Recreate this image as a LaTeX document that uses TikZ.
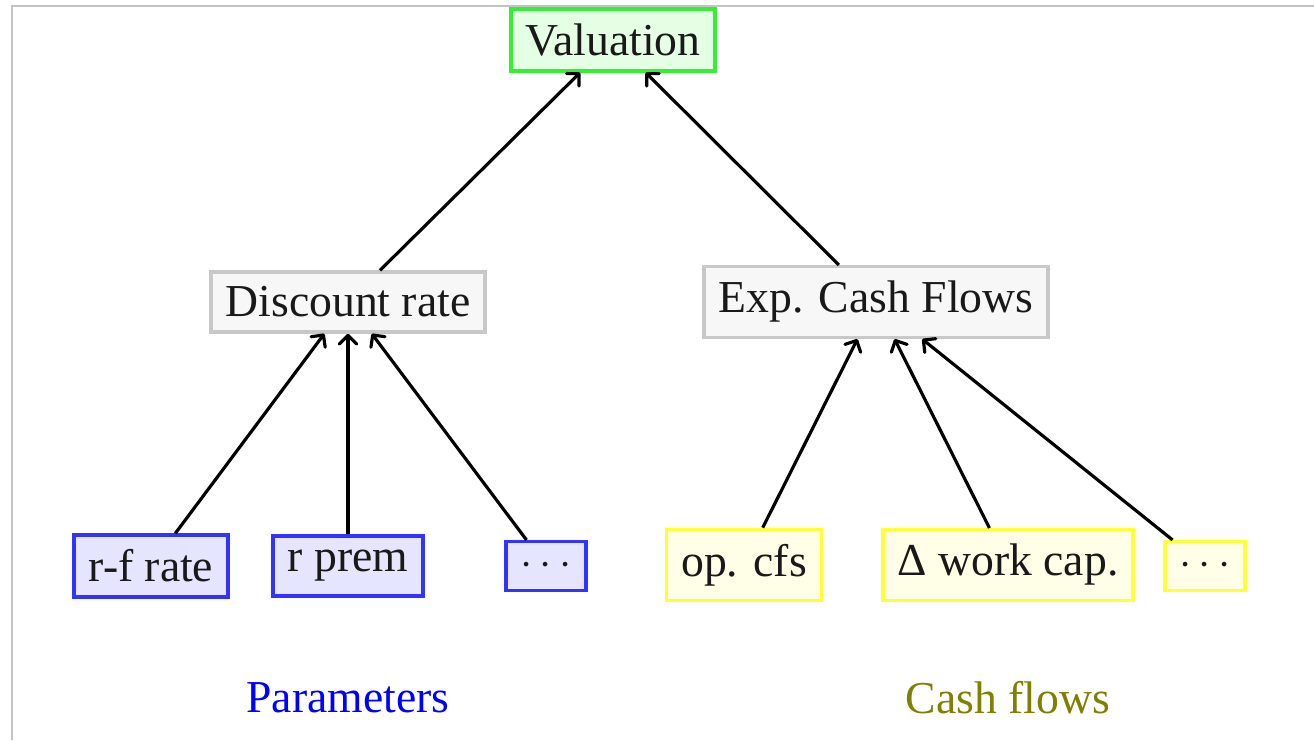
\documentclass[tikz,border=0pt]{standalone}
\usepackage{fontspec}
\setmainfont{Liberation Serif}
\usetikzlibrary{arrows.meta}
\begin{document}
\begin{tikzpicture}[x=0.02cm,y=-0.02cm,font=\fontsize{26}{31}\selectfont]
		%%% Colores
		\definecolor{framecolor}{RGB}{195,195,195}
		\definecolor{topcolor}{RGB}{51,240,51}
		\definecolor{midcolor}{RGB}{200,200,200}
		\definecolor{parcolor}{RGB}{51,51,255}
		\definecolor{cfcolor}{RGB}{255,255,51}
		\definecolor{olivecolor}{RGB}{128,128,0}
		\tikzset{
			box/.style={draw,line width=2pt,inner sep=8.3pt,text=black!90},
			topbox/.style={box,draw=topcolor,fill=green!10},
			midbox/.style={box,draw=midcolor,fill=black!3},
			parbox/.style={box,draw=parcolor,fill=blue!10},
			cfbox/.style={box,draw=cfcolor,fill=yellow!10},
			link/.style={-{Straight Barb[length=5pt,width=10pt,round]},line width=1.8pt},
		}
		\useasboundingbox (0,0) rectangle (1314,740);

		%%% Marco
		\draw[framecolor,line width=1pt] (12,740) -- (12,6) -- (1314,6);

		%%% Nodos
		\node[topbox] (val) at (613,40) {Valuation};
		\node[midbox] (disc) at (348,302) {Discount rate};
		\node[midbox] (ecf) at (876,302) {Exp. Cash Flows};

		\node[parbox] (rf) at (151,566) {r-f rate};
		\node[parbox] (rprem) at (348,566) {r prem};
		\node[parbox] (dotsA) at (546,566) {$\cdots$};

		\node[cfbox] (opcf) at (744,565) {op. cfs};
		\node[cfbox] (dwc) at (1008,565) {Δ work cap.};
		\node[cfbox] (dotsB) at (1205,566) {$\cdots$};

		%%% Flechas
		\draw[link] (disc) -- (val);
		\draw[link] (ecf) -- (val);
		\foreach \n in {rf,rprem,dotsA} {
			\draw[link] (\n) -- (disc);
		}
		\foreach \n in {opcf,dwc,dotsB} {
			\draw[link] (\n) -- (ecf);
		}

		%%% Etiquetas
		\node[text=blue] (par) at (348,698) {Parameters};
		\node[text=olivecolor] (cf) at (1008,698) {Cash flows};
	\end{tikzpicture}
\end{document}
